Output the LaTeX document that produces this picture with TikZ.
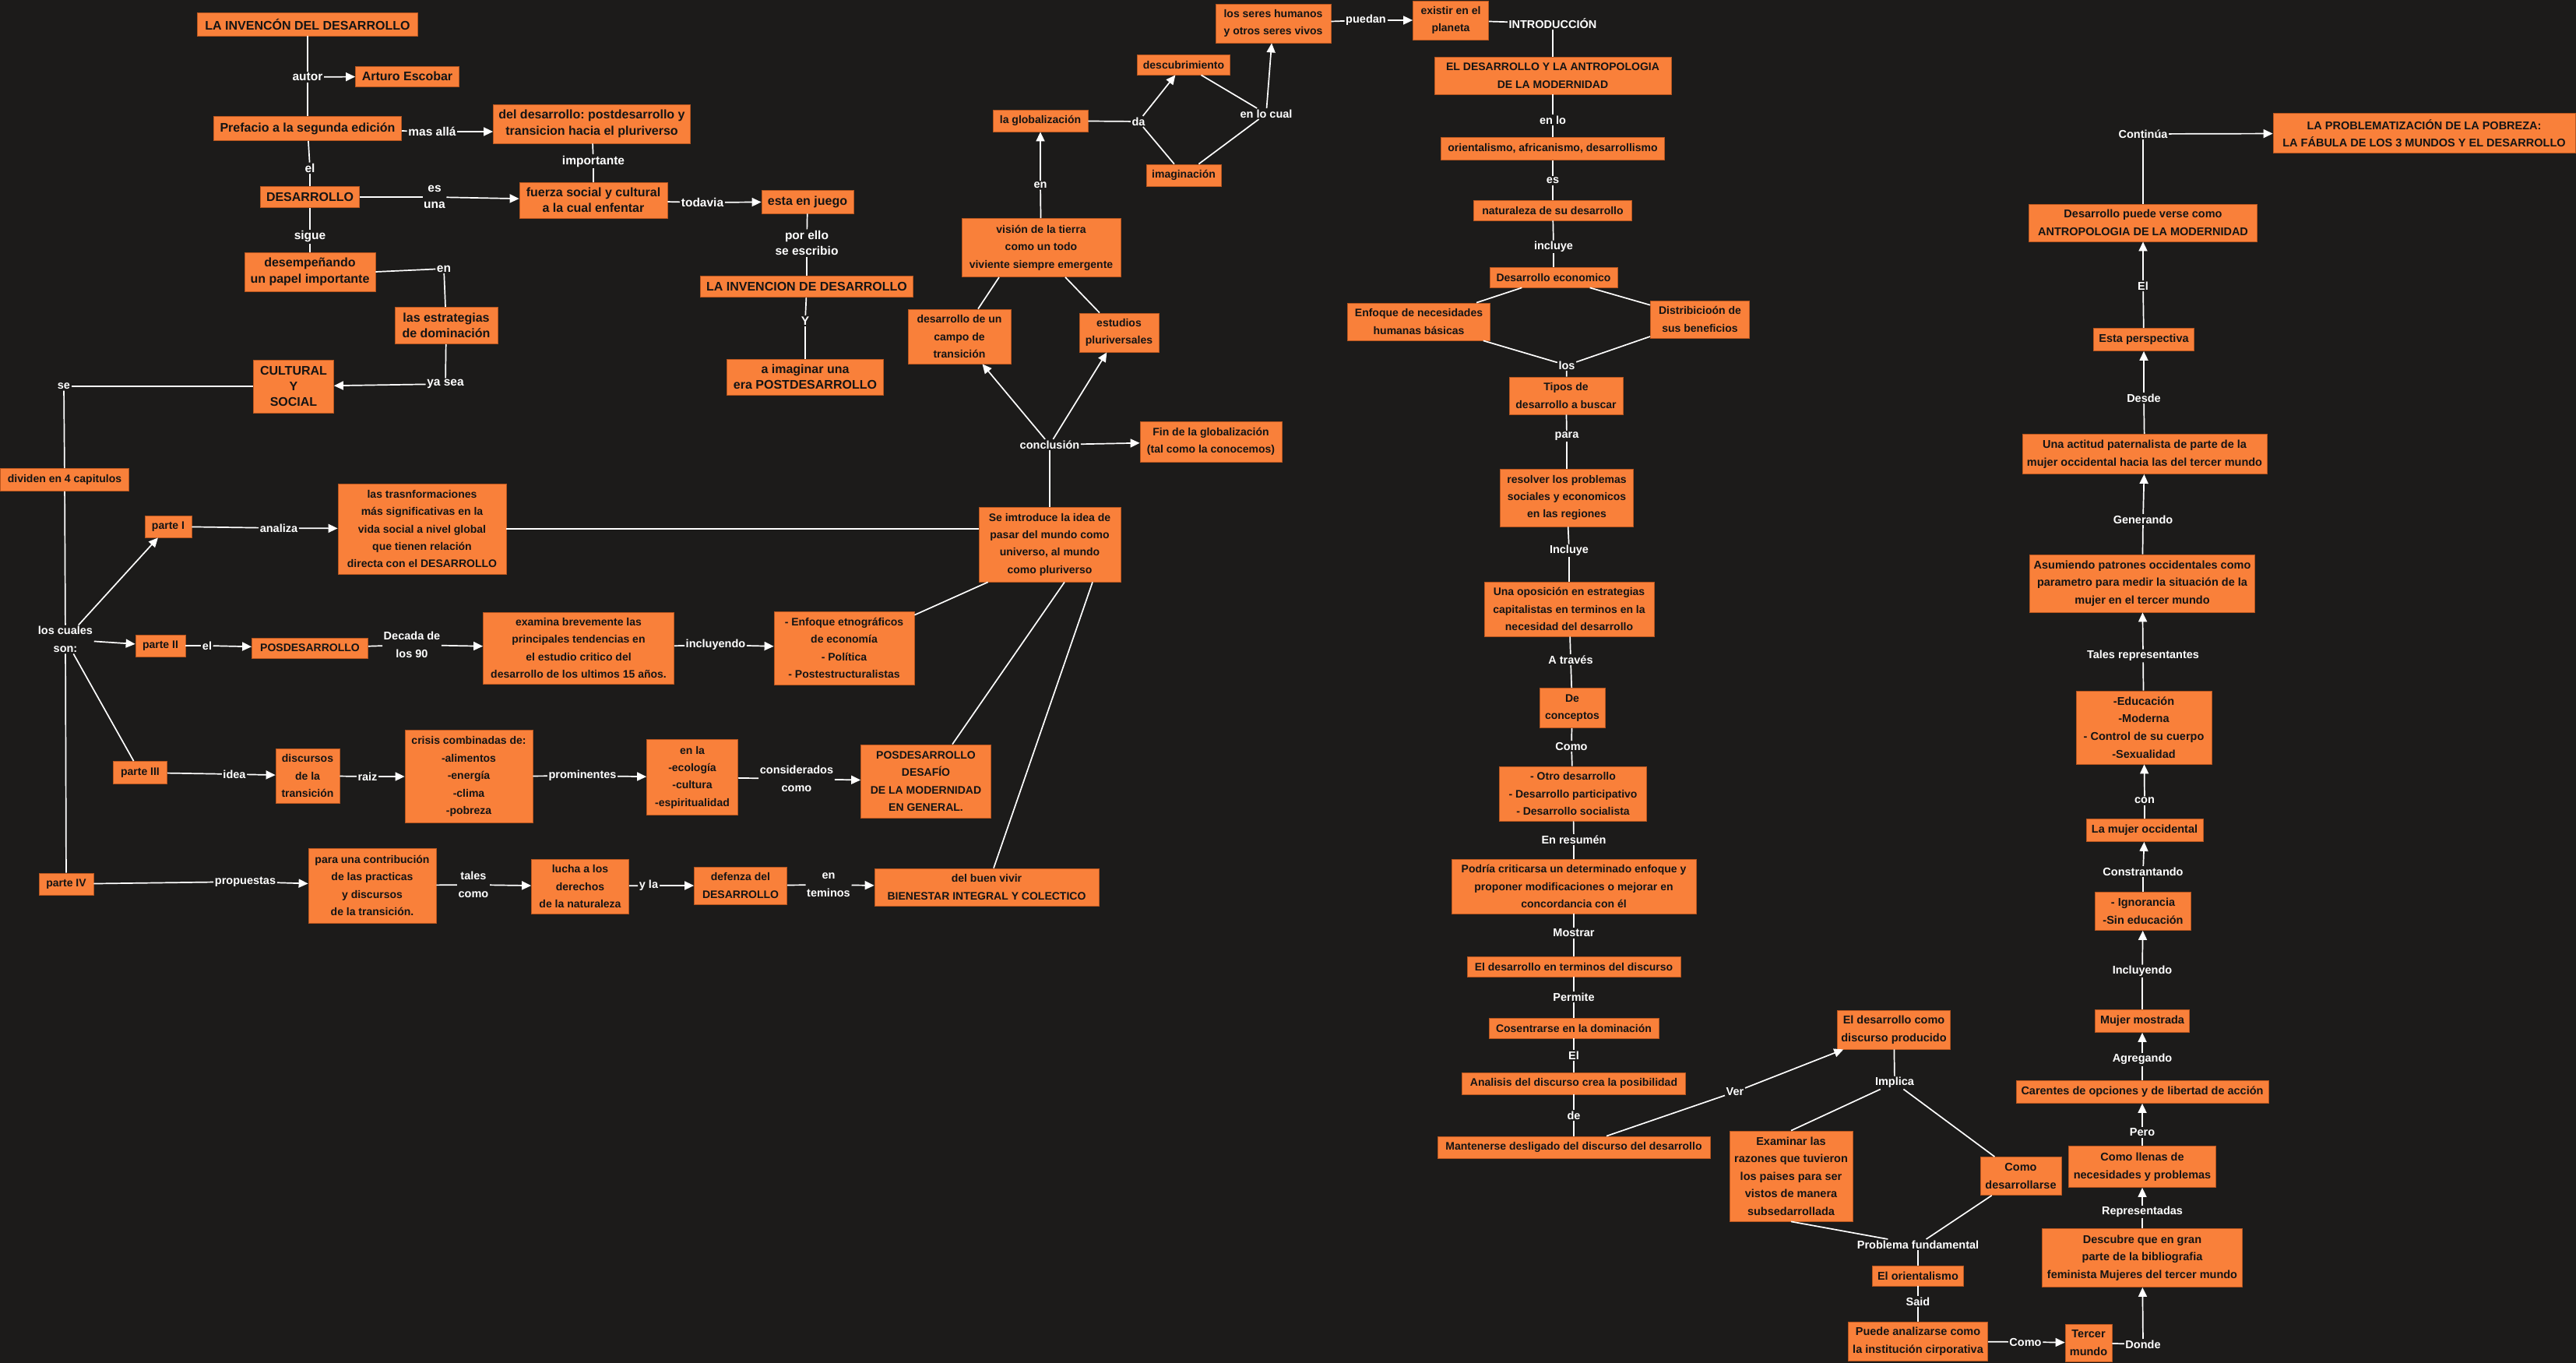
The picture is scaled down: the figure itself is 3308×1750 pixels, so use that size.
\documentclass[tikz,border=0pt]{standalone}
\usepackage{fontspec}
\setmainfont{Liberation Sans}
\usetikzlibrary{arrows.meta,calc}
\definecolor{bgc}{HTML}{1C1B1A}
\definecolor{boxfill}{HTML}{F9803A}
\definecolor{boxline}{HTML}{B8561F}
\definecolor{boxtext}{HTML}{141414}
\tikzset{
  bx/.style={draw=boxline, fill=boxfill, line width=0.8pt, text=boxtext, align=center, inner sep=2pt,
    font={\fontsize{14}{22.4}\selectfont\bfseries}},
  bxb/.style={bx, font={\fontsize{16}{20.3}\selectfont\bfseries}},
  bxr/.style={bx, font={\fontsize{14.5}{22.6}\selectfont\bfseries}},
  lb/.style={text=white, inner sep=1.5pt, align=center, font={\fontsize{14.5}{22.8}\selectfont\bfseries}},
  lbb/.style={lb, font={\fontsize{15.5}{20.3}\selectfont\bfseries}},
  ln/.style={white, line width=1.7pt},
  ar/.style={ln, -{Triangle[length=12pt,width=11pt]}},
}
\newcommand{\bnode}[6]{\node[#1, minimum width=#4pt, minimum height=#5pt] (#2) at (#3) {#6};}
\begin{document}
\frenchspacing
\begin{tikzpicture}[x=1pt,y=-1pt]
\fill[bgc] (0,0) rectangle (3308,1750);
\useasboundingbox (0,0) rectangle (3308,1750);

% ---------- boxes: top-left ----------
\bnode{bxb}{inv1}{395,31}{283}{30}{LA INVENCÓN DEL DESARROLLO}
\bnode{bxb}{arturo}{523,98}{133}{26}{Arturo Escobar}
\bnode{bxb}{prefacio}{395,165}{241}{31}{Prefacio a la segunda edición}
\bnode{bxb}{deldes}{760,159}{253}{50}{del desarrollo: postdesarrollo y\\transicion hacia el pluriverso}
\bnode{bxb}{desarr}{398,253}{127}{27}{DESARROLLO}
\bnode{bxb}{fuerza}{762,257}{190}{46}{fuerza social y cultural\\a la cual enfentar}
\bnode{bxb}{desemp}{398,349}{168}{50}{desempeñando\\un papel importante}
\bnode{bxb}{estrat}{573,418}{132}{47}{las estrategias\\de dominación}
\bnode{bxb}{cultural}{377,496}{103}{68}{CULTURAL\\Y\\SOCIAL}
\bnode{bxb}{esta}{1037,259}{118}{30}{esta en juego}
\bnode{bxb}{inv2}{1036,368}{273}{27}{LA INVENCION DE DESARROLLO}
\bnode{bxb}{imaginar}{1034,484}{201}{46}{a imaginar una\\era POSTDESARROLLO}

% ---------- boxes: globalization cluster ----------
\bnode{bx}{glob}{1336,155}{122}{28}{la globalización}
\bnode{bx}{desc}{1520,83}{119}{26}{descubrimiento}
\bnode{bx}{imag}{1520,225}{96}{28}{imaginación}
\bnode{bx}{seres}{1635,30}{148}{50}{los seres humanos\\y otros seres vivos}
\bnode{bx}{vision}{1337,318}{204}{75}{visión de la tierra\\como un todo\\viviente siempre emergente}
\bnode{bx}{campo}{1232,432}{132}{70}{desarrollo de un\\campo de\\transición}
\bnode{bx}{estudios}{1437,427}{102}{50}{estudios\\pluriversales}
\bnode{bx}{fin}{1555,567}{182}{52}{Fin de la globalización\\(tal como la conocemos)}
\bnode{bx}{existir}{1863,26}{97}{50}{existir en el\\planeta}

% ---------- boxes: middle column ----------
\bnode{bx}{antrop}{1994,97}{304}{48}{EL DESARROLLO Y LA ANTROPOLOGIA\\DE LA MODERNIDAD}
\bnode{bx}{orient}{1994,191}{287}{29}{orientalismo, africanismo, desarrollismo}
\bnode{bx}{natur}{1994,270}{203}{26}{naturaleza de su desarrollo}
\bnode{bx}{econ}{1995,356}{164}{26}{Desarrollo economico}
\bnode{bx}{enfneces}{1822,413}{183}{48}{Enfoque de necesidades\\humanas básicas}
\bnode{bx}{distr}{2183,410}{127}{48}{Distribicioón de\\sus beneficios}
\bnode{bx}{tipos}{2011,508}{146}{48}{Tipos de\\desarrollo a buscar}
\bnode{bx}{resolver}{2012,639}{171}{74}{resolver los problemas\\sociales y economicos\\en las regiones}
\bnode{bx}{oposicion}{2015,782}{218}{70}{Una oposición en estrategias\\capitalistas en terminos en la\\necesidad del desarrollo}
\bnode{bx}{concep}{2019,909}{84}{51}{De\\conceptos}
\bnode{bx}{otro}{2020,1019}{189}{70}{- Otro desarrollo\\- Desarrollo participativo\\- Desarrollo socialista}
\bnode{bx}{podria}{2021,1138}{314}{70}{Podría criticarsa un determinado enfoque y\\proponer modificaciones o mejorar en\\concordancia con él}
\bnode{bx}{enterm}{2021,1241}{274}{26}{El desarrollo en terminos del discurso}
\bnode{bx}{cosen}{2021,1320}{218}{26}{Cosentrarse en la dominación}
\bnode{bx}{analisis}{2021,1391}{287}{28}{Analisis del discurso crea la posibilidad}
\bnode{bx}{manten}{2021,1473}{350}{28}{Mantenerse desligado del discurso del desarrollo}

% ---------- boxes: bottom cluster ----------
\bnode{bxr}{discprod}{2432,1322}{145}{50}{El desarrollo como\\discurso producido}
\bnode{bxr}{examinar}{2300,1510}{158}{116}{Examinar las\\razones que tuvieron\\los paises para ser\\vistos de manera\\subsedarrollada}
\bnode{bxr}{comodes}{2595,1510}{104}{49}{Como\\desarrollarse}
\bnode{bxr}{oriental}{2463,1638}{117}{26}{El orientalismo}
\bnode{bxr}{puede}{2463,1722}{179}{50}{Puede analizarse como\\la institución cirporativa}
\bnode{bxr}{tercer}{2682,1724}{60}{48}{Tercer\\mundo}

% ---------- boxes: right column ----------
\bnode{bxr}{descubre}{2751,1615}{257}{75}{Descubre que en gran\\parte de la bibliografia\\feminista Mujeres del tercer mundo}
\bnode{bxr}{llenas}{2751,1498}{189}{53}{Como llenas de\\necesidades y problemas}
\bnode{bxr}{carentes}{2751,1402}{324}{29}{Carentes de opciones y de libertad de acción}
\bnode{bxr}{mujmost}{2751,1311}{121}{29}{Mujer mostrada}
\bnode{bxr}{ignor}{2752,1170}{123}{49}{- Ignorancia\\-Sin educación}
\bnode{bxr}{mujocc}{2754,1066}{150}{29}{La mujer occidental}
\bnode{bxr}{educ}{2753,934}{174}{94}{-Educación\\-Moderna\\- Control de su cuerpo\\-Sexualidad}
\bnode{bxr}{asum}{2751,749}{289}{74}{Asumiendo patrones occidentales como\\parametro para medir la situación de la\\mujer en el tercer mundo}
\bnode{bxr}{actitud}{2754,583}{314}{51}{Una actitud paternalista de parte de la\\mujer occidental hacia las del tercer mundo}
\bnode{bxr}{perspec}{2753,436}{129}{29}{Esta perspectiva}
\bnode{bxr}{desverse}{2752,286}{293}{48}{Desarrollo puede verse como\\ANTROPOLOGIA DE LA MODERNIDAD}
\bnode{bxr}{problem}{3113,171}{388}{51}{LA PROBLEMATIZACIÓN DE LA POBREZA:\\LA FÁBULA DE LOS 3 MUNDOS Y EL DESARROLLO}

% ---------- boxes: lower-left ----------
\bnode{bx}{dividen}{83,616}{165}{29}{dividen en 4 capitulos}
\bnode{bx}{parte1}{216,676}{60}{28}{parte I}
\bnode{bx}{trans}{542,679}{216}{116}{las trasnformaciones\\más significativas en la\\vida social a nivel global\\que tienen relación\\directa con el DESARROLLO}
\bnode{bx}{parte2}{206,829}{64}{28}{parte II}
\bnode{bx}{posdes}{398,832}{149}{26}{POSDESARROLLO}
\bnode{bx}{examina}{743,832}{245}{92}{examina brevemente las\\principales tendencias en\\el estudio critico del\\desarrollo de los ultimos 15 años.}
\bnode{bx}{enfetno}{1084,832}{180}{94}{- Enfoque etnográficos\\de economía\\- Política\\- Postestructuralistas}
\bnode{bx}{parte3}{180,992}{69}{29}{parte III}
\bnode{bx}{discursos}{395,996}{82}{70}{discursos\\de la\\transición}
\bnode{bx}{crisis}{602,997}{164}{119}{crisis combinadas de:\\-alimentos\\-energía\\-clima\\-pobreza}
\bnode{bx}{enla}{889,998}{117}{97}{en la\\-ecología\\-cultura\\-espiritualidad}
\bnode{bx}{desafio}{1189,1003}{167}{94}{POSDESARROLLO\\DESAFÍO\\DE LA MODERNIDAD\\EN GENERAL.}
\bnode{bx}{parte4}{85,1135}{70}{28}{parte IV}
\bnode{bx}{contrib}{478,1137}{164}{96}{para una contribución\\de las practicas\\y discursos\\de la transición.}
\bnode{bx}{lucha}{745,1138}{125}{70}{lucha a los\\derechos\\de la naturaleza}
\bnode{bx}{defenza}{951,1137}{119}{48}{defenza del\\DESARROLLO}
\bnode{bx}{vivir}{1267,1139}{288}{48}{del buen vivir\\BIENESTAR INTEGRAL Y COLECTICO}
\bnode{bx}{seintro}{1348,699}{182}{96}{Se imtroduce la idea de\\pasar del mundo como\\universo, al mundo\\como pluriverso}

% ---------- labels ----------
\node[lbb] (l_autor) at (395,99) {autor};
\node[lbb] (l_masalla) at (555,169) {mas allá};
\node[lbb] (l_import) at (762,207) {importante};
\node[lbb] (l_el1) at (398,216) {el};
\node[lbb] (l_esuna) at (558,253) {es\\una};
\node[lbb] (l_sigue) at (398,304) {sigue};
\node[lbb] (l_en1) at (570,345) {en};
\node[lbb] (l_yasea) at (572,493) {ya sea};
\node[lb] (l_se) at (82,496) {se};
\node[lbb] (l_todavia) at (902,260) {todavia};
\node[lbb] (l_porello) at (1036,312) {por ello\\se escribio};
\node[lbb] (l_y) at (1034,412) {Y};
\node[lb] (l_en2) at (1336,238) {en};
\node[lb] (l_da) at (1462,156) {da};
\node[lb] (l_enlocual) at (1626,146) {en lo cual};
\node[lb] (l_puedan) at (1754,26) {puedan};
\node[lb] (l_intro) at (1994,30) {INTRODUCCIÓN};
\node[lb] (l_enlo) at (1994,154) {en lo};
\node[lb] (l_es) at (1994,232) {es};
\node[lb] (l_incluye) at (1995,317) {incluye};
\node[lb] (l_los) at (2012,469) {los};
\node[lb] (l_para) at (2012,560) {para};
\node[lb] (l_Incluye) at (2015,707) {Incluye};
\node[lb] (l_atraves) at (2017,847) {A través};
\node[lb] (l_como1) at (2018,958) {Como};
\node[lb] (l_resumen) at (2021,1078) {En resumén};
\node[lb] (l_mostrar) at (2021,1198) {Mostrar};
\node[lb] (l_permite) at (2021,1280) {Permite};
\node[lb] (l_El1) at (2021,1355) {El};
\node[lb] (l_de) at (2021,1432) {de};
\node[lb] (l_ver) at (2228,1402) {Ver};
\node[lb] (l_implica) at (2433,1390) {Implica};
\node[lb] (l_problema) at (2463,1598) {Problema fundamental};
\node[lb] (l_said) at (2463,1671) {Said};
\node[lb] (l_como2) at (2601,1723) {Como};
\node[lb] (l_donde) at (2752,1726) {Donde};
\node[lb] (l_repres) at (2751,1556) {Representadas};
\node[lb] (l_pero) at (2751,1454) {Pero};
\node[lb] (l_agreg) at (2751,1360) {Agregando};
\node[lb] (l_incluyendo2) at (2751,1247) {Incluyendo};
\node[lb] (l_constr) at (2752,1119) {Constrantando};
\node[lb] (l_con) at (2754,1028) {con};
\node[lb] (l_tales) at (2752,842) {Tales representantes};
\node[lb] (l_generando) at (2752,667) {Generando};
\node[lb] (l_desde) at (2753,511) {Desde};
\node[lb] (l_El2) at (2752,367) {El};
\node[lb] (l_continua) at (2752,172) {Continúa};
\node[lb] (l_conclusion) at (1348,571) {conclusión};
\node[lb] (l_loscuales) at (84,821) {los cuales\\son:};
\node[lb] (l_analiza) at (358,678) {analiza};
\node[lb] (l_el2) at (266,829) {el};
\node[lb] (l_decada) at (529,828) {Decada de\\los 90};
\node[lb] (l_incluyendo) at (919,828) {incluyendo};
\node[lb] (l_idea) at (301,994) {idea};
\node[lb] (l_raiz) at (472,997) {raiz};
\node[lb] (l_promin) at (748,996) {prominentes};
\node[lb] (l_consid) at (1023,1000) {considerados\\como};
\node[lb] (l_propuestas) at (315,1132) {propuestas};
\node[lb] (l_talescomo) at (608,1136) {tales\\como};
\node[lb] (l_yla) at (833,1137) {y la};
\node[lb] (l_enteminos) at (1064,1136) {en\\teminos};

% ---------- connectors: top-left ----------
\draw[ln] (inv1) -- (l_autor);
\draw[ar] (l_autor) -- (arturo);
\draw[ln] (l_autor) -- (prefacio);
\draw[ln] (prefacio) -- (l_masalla);
\draw[ar] (l_masalla) -- (l_masalla -| deldes.west);
\draw[ln] (deldes) -- (l_import);
\draw[ln] (l_import) -- (fuerza);
\draw[ln] (prefacio) -- (l_el1);
\draw[ln] (l_el1) -- (desarr);
\draw[ln] (desarr) -- (l_esuna);
\draw[ar] (l_esuna) -- (fuerza);
\draw[ln] (fuerza) -- (l_todavia);
\draw[ar] (l_todavia) -- (esta);
\draw[ln] (esta) -- (l_porello);
\draw[ln] (l_porello) -- (inv2);
\draw[ln] (inv2) -- (l_y);
\draw[ln] (l_y) -- (imaginar);
\draw[ln] (desarr) -- (l_sigue);
\draw[ln] (l_sigue) -- (desemp);
\draw[ln] (desemp.east) -- (l_en1);
\draw[ln] (l_en1) -- (estrat);
\draw[ln] (estrat) -- (l_yasea);
\draw[ar] (l_yasea) -- (cultural);
\draw[ln] (cultural) -- (l_se);
\draw[ln] (l_se) -- (dividen);

% ---------- connectors: lower-left ----------
\draw[ln] (dividen) -- (l_loscuales);
\draw[ar] (l_loscuales) -- (parte1);
\draw[ar] (l_loscuales) -- (parte2);
\draw[ln] (l_loscuales) -- (parte3);
\draw[ln] (l_loscuales) -- (parte4);
\draw[ln] (parte1) -- (l_analiza);
\draw[ar] (l_analiza) -- (trans);
\draw[ln] (trans.east) -- (trans.east -| seintro.west);
\draw[ln] (parte2) -- (l_el2);
\draw[ar] (l_el2) -- (posdes);
\draw[ln] (posdes) -- (l_decada);
\draw[ar] (l_decada) -- (examina);
\draw[ln] (examina) -- (l_incluyendo);
\draw[ar] (l_incluyendo) -- (enfetno);
\draw[ln] (parte3) -- (l_idea);
\draw[ar] (l_idea) -- (discursos);
\draw[ln] (discursos) -- (l_raiz);
\draw[ar] (l_raiz) -- (crisis);
\draw[ln] (crisis) -- (l_promin);
\draw[ar] (l_promin) -- (enla);
\draw[ln] (enla) -- (l_consid);
\draw[ar] (l_consid) -- (desafio);
\draw[ln] (parte4) -- (l_propuestas);
\draw[ar] (l_propuestas) -- (contrib);
\draw[ln] (contrib) -- (l_talescomo);
\draw[ar] (l_talescomo) -- (lucha);
\draw[ln] (lucha) -- (l_yla);
\draw[ar] (l_yla) -- (defenza);
\draw[ln] (defenza) -- (l_enteminos);
\draw[ar] (l_enteminos) -- (vivir);
\draw[ln] ([xshift=12pt]seintro.south west) -- ([yshift=-5pt]enfetno.north east);
\draw[ln] ([xshift=19pt]seintro.south) -- ([xshift=34pt]desafio.north);
\draw[ln] ([xshift=55pt]seintro.south) -- ([xshift=9pt]vivir.north);

% ---------- connectors: globalization cluster ----------
\draw[ln] (l_conclusion) -- (seintro);
\draw[ar] (l_conclusion) -- (campo);
\draw[ar] (l_conclusion) -- (estudios);
\draw[ar] (l_conclusion) -- (fin);
\draw[ln] ([xshift=24pt]campo.north) -- ([xshift=-54pt]vision.south);
\draw[ln] ([xshift=-25pt]estudios.north) -- ([xshift=31pt]vision.south);
\draw[ln] (vision) -- (l_en2);
\draw[ar] (l_en2) -- (glob);
\draw[ln] (glob) -- (l_da);
\draw[ar] (l_da) -- (desc);
\draw[ln] (l_da) -- (imag);
\draw[ln] (desc) -- (l_enlocual);
\draw[ln] (imag) -- (l_enlocual);
\draw[ar] (l_enlocual) -- (seres);
\draw[ln] (seres) -- (l_puedan);
\draw[ar] (l_puedan) -- (existir);
\draw[ln] (existir) -- (l_intro);
\draw[ln] (l_intro) -- (antrop);

% ---------- connectors: middle column ----------
\draw[ln] (antrop) -- (l_enlo);
\draw[ln] (l_enlo) -- (orient);
\draw[ln] (orient) -- (l_es);
\draw[ln] (l_es) -- (natur);
\draw[ln] (natur) -- (l_incluye);
\draw[ln] (l_incluye) -- (econ);
\draw[ln] (econ) -- (enfneces);
\draw[ln] (econ) -- (distr);
\draw[ln] (enfneces) -- (l_los);
\draw[ln] (distr) -- (l_los);
\draw[ln] (l_los) -- (tipos);
\draw[ln] (tipos) -- (l_para);
\draw[ln] (l_para) -- (resolver);
\draw[ln] (resolver) -- (l_Incluye);
\draw[ln] (l_Incluye) -- (oposicion);
\draw[ln] (oposicion) -- (l_atraves);
\draw[ln] (l_atraves) -- (concep);
\draw[ln] (concep) -- (l_como1);
\draw[ln] (l_como1) -- (otro);
\draw[ln] (otro) -- (l_resumen);
\draw[ln] (l_resumen) -- (podria);
\draw[ln] (podria) -- (l_mostrar);
\draw[ln] (l_mostrar) -- (enterm);
\draw[ln] (enterm) -- (l_permite);
\draw[ln] (l_permite) -- (cosen);
\draw[ln] (cosen) -- (l_El1);
\draw[ln] (l_El1) -- (analisis);
\draw[ln] (analisis) -- (l_de);
\draw[ln] (l_de) -- (manten);

% ---------- connectors: bottom cluster ----------
\draw[ln] ([xshift=42pt]manten.north) -- (l_ver);
\draw[ar] (l_ver) -- (discprod);
\draw[ln] (discprod) -- (l_implica);
\draw[ln] (l_implica) -- (examinar.north);
\draw[ln] (l_implica) -- (comodes);
\draw[ln] (examinar.south) -- (l_problema);
\draw[ln] (comodes) -- (l_problema);
\draw[ln] (l_problema) -- (oriental);
\draw[ln] (oriental) -- (l_said);
\draw[ln] (l_said) -- (puede);
\draw[ln] (puede) -- (l_como2);
\draw[ar] (l_como2) -- (tercer);
\draw[ln] (tercer) -- (l_donde);

% ---------- connectors: right column ----------
\draw[ar] (l_donde) -- (descubre);
\draw[ln] (descubre) -- (l_repres);
\draw[ar] (l_repres) -- (llenas);
\draw[ln] (llenas) -- (l_pero);
\draw[ar] (l_pero) -- (carentes);
\draw[ln] (carentes) -- (l_agreg);
\draw[ar] (l_agreg) -- (mujmost);
\draw[ln] (mujmost) -- (l_incluyendo2);
\draw[ar] (l_incluyendo2) -- (ignor);
\draw[ln] (ignor) -- (l_constr);
\draw[ar] (l_constr) -- (mujocc);
\draw[ln] (mujocc) -- (l_con);
\draw[ar] (l_con) -- (educ);
\draw[ln] (educ) -- (l_tales);
\draw[ar] (l_tales) -- (asum);
\draw[ln] (asum) -- (l_generando);
\draw[ar] (l_generando) -- (actitud);
\draw[ln] (actitud) -- (l_desde);
\draw[ar] (l_desde) -- (perspec);
\draw[ln] (perspec) -- (l_El2);
\draw[ar] (l_El2) -- (desverse);
\draw[ln] (desverse) -- (l_continua);
\draw[ar] (l_continua) -- (problem);
\end{tikzpicture}
\end{document}
